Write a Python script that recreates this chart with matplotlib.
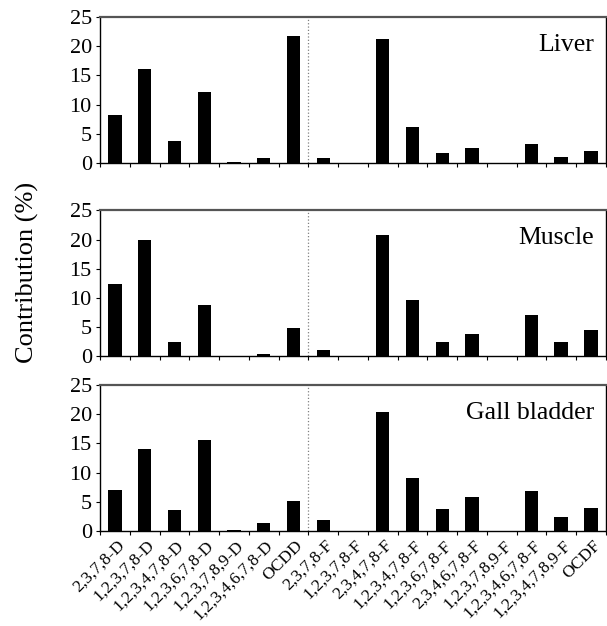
import numpy as np
import matplotlib.pyplot as plt
from matplotlib.ticker import FixedLocator

plt.rcParams['font.family'] = ['Liberation Serif', 'DejaVu Serif']

congeners = ["2,3,7,8-D", "1,2,3,7,8-D", "1,2,3,4,7,8-D", "1,2,3,6,7,8-D",
             "1,2,3,7,8,9-D", "1,2,3,4,6,7,8-D", "OCDD",
             "2,3,7,8-F", "1,2,3,7,8-F", "2,3,4,7,8-F", "1,2,3,4,7,8-F",
             "1,2,3,6,7,8-F", "2,3,4,6,7,8-F", "1,2,3,7,8,9-F",
             "1,2,3,4,6,7,8-F", "1,2,3,4,7,8,9-F", "OCDF"]

liver = [8.3, 16.1, 3.7, 12.1, 0.1, 0.9, 21.7,
         0.9, 0.0, 21.3, 6.1, 1.7, 2.5, 0.0, 3.2, 1.1, 2.0]
muscle = [12.4, 20.0, 2.4, 8.8, 0.1, 0.3, 4.9,
          1.1, 0.1, 20.7, 9.6, 2.5, 3.8, 0.0, 7.1, 2.5, 4.5]
gall_bladder = [7.0, 14.1, 3.6, 15.5, 0.2, 1.3, 5.1,
                1.8, 0.0, 20.3, 9.0, 3.8, 5.8, 0.0, 6.9, 2.4, 4.0]

panels = [("Liver", liver), ("Muscle", muscle), ("Gall bladder", gall_bladder)]

fig = plt.figure(figsize=(6.07, 6.26), dpi=100)
left, width = 0.165, 0.833
bottoms = [0.7396, 0.431, 0.152]
height = 0.233

x = np.arange(len(congeners))
for i, (name, vals) in enumerate(panels):
    ax = fig.add_axes([left, bottoms[i], width, height])
    ax.bar(x, vals, width=0.45, color="black")
    ax.set_xlim(-0.5, len(congeners) - 0.5)
    ax.set_ylim(0, 25)
    ax.set_yticks([0, 5, 10, 15, 20, 25])
    ax.tick_params(axis="y", labelsize=16, length=3, direction="out", pad=3)
    ax.xaxis.set_major_locator(FixedLocator(np.arange(-0.5, len(congeners), 1.0)))
    ax.tick_params(axis="x", length=3, direction="out", labelbottom=False)
    ax.axvline(6.5, color="grey", linestyle=":", linewidth=0.9)
    for s in ax.spines.values():
        s.set_linewidth(1.0)
    ax.spines["top"].set_color("#555555")
    ax.spines["top"].set_linewidth(1.6)
    ax.text(0.977, 0.81, name, transform=ax.transAxes, ha="right",
            va="center", fontsize=18.5)
    if i == 2:
        # rotated congener labels under the bottom panel only
        for xi, lab in zip(x, congeners):
            ax.text(xi + 0.05, -1.1, lab, rotation=45, ha="right", va="top",
                    rotation_mode="anchor", fontsize=12.5)

fig.text(0.045, 0.565, "Contribution (%)", rotation=90, ha="center",
         va="center", fontsize=19)

fig.savefig("out.png", dpi=100)
